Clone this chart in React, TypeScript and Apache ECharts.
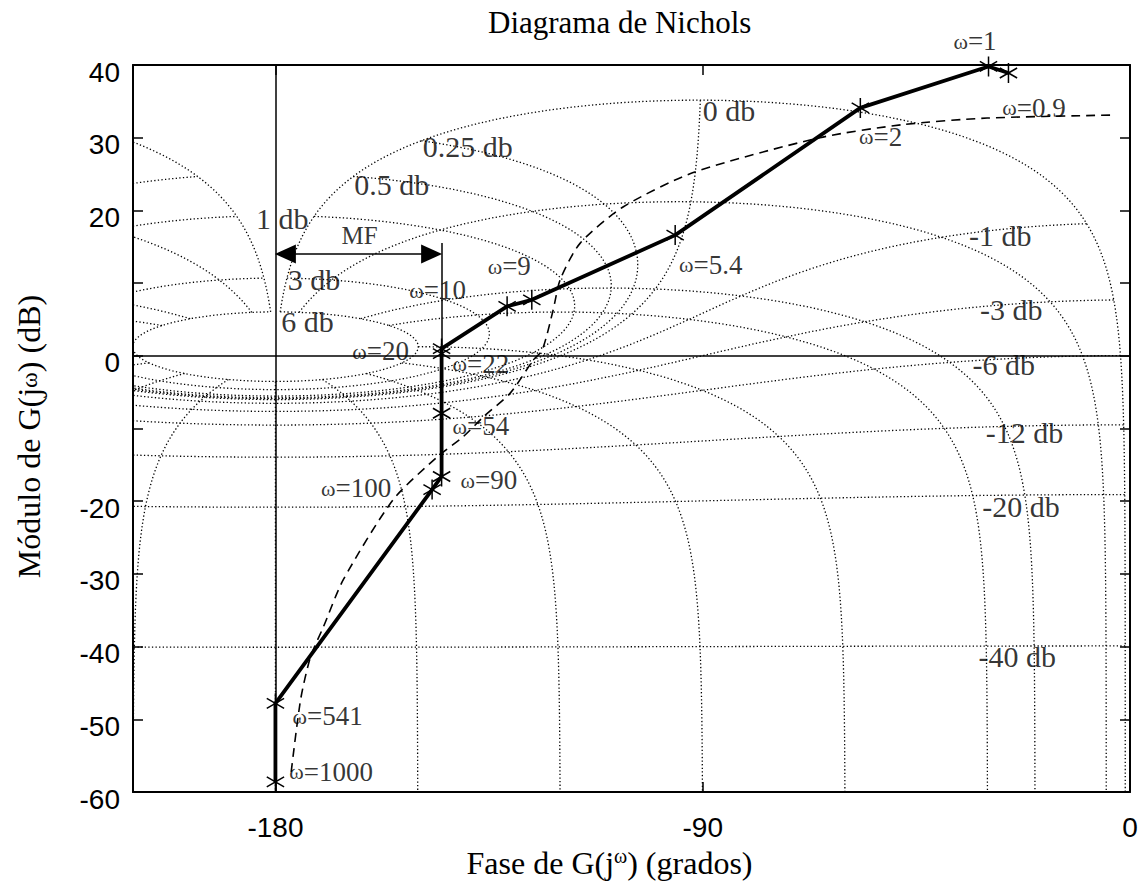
import { useEffect, useRef } from "react";
import * as echarts from "echarts";

const SERIF = '"Liberation Serif", "Times New Roman", Times, serif';
const SANS = '"Liberation Sans", Arial, Helvetica, sans-serif';

// ---- axis ticks ----
const xTickValues = [-180, -90, 0];
const hiddenYLabels = [10, -10];

// ---- open-loop response G(jw) (solid line with asterisks) ----
const omegaValues = ["0.9", "1", "2", "5.4", "9", "10", "20", "22", "54", "90", "100", "541", "1000"];
const gPhase = [-25.6, -29.8, -56.8, -95.8, -126.0, -131.2, -145, -145, -145, -145, -147.0, -180, -180];
const gMag = [38.9, 39.8, 34.1, 16.6, 7.7, 6.8, 1.0, 0.3, -7.9, -16.6, -18.4, -47.8, -58.6];

// ---- second response (dashed curve) ----
const dashedPhase = [-4.2, -30.1, -47.8, -65.3, -92.0, -106.7, -115.8, -120.0, -121.5, -123.8, -125.7, -130.5, -136.2, -140.4, -145.9, -155.2, -165.7, -169.9, -172.6, -174.7, -176.8];
const dashedMag = [33.1, 32.7, 31.8, 30.0, 25.2, 20.5, 15.5, 10.5, 6.3, 0.8, -0.6, -5.1, -8.4, -11.1, -13.9, -19.8, -30.8, -37.3, -41.4, -47.3, -57.9];

// ---- omega annotation anchors ----
const omegaLabelPhase = [-27.0, -37.3, -57.2, -95.1, -135.4, -151.9, -163.9, -142.8, -142.8, -141.1, -170.5, -176.5, -177.2];
const omegaLabelMag = [34.1, 43.3, 30.1, 12.5, 12.3, 9.0, 0.6, -1.1, -9.7, -17.1, -18.2, -49.6, -57.2];

// ---- Nichols grid (closed-loop magnitude and phase contours) ----
const M_LEVELS_DB = [6, 3, 1, 0.5, 0.25, 0, -1, -3, -6, -12, -20, -40];
const N_LEVELS_DEG = [-1, -5, -20, -30, -60, -90, -120, -150, -180, -210, -240, -270, -300, -330, -340, -355, -359];

const gridLabelTexts = ["0 db", "0.25 db", "0.5 db", "1 db", "3 db", "6 db", "-1 db", "-3 db", "-6 db", "-12 db", "-20 db", "-40 db"];
const gridLabelPhase = [-90.1, -149.1, -163.5, -184.2, -177.5, -178.9, -34.0, -31.7, -33.3, -30.5, -31.2, -32.0];
const gridLabelMag = [33.8, 28.8, 23.5, 18.9, 10.5, 4.7, 16.6, 6.3, -1.2, -10.6, -20.7, -41.4];

// ---- phase margin annotation ----
const pmPhase = -145;
const pmTopDb = 15.5;
const mfArrowDb = 14;
const mfArrowEnds = [-177.9, -147.1];
const mfLabelPos = [-162.3, 16.6];

function nicholsPoint(mDb: number, psiDeg: number): [number, number] {
  const m = Math.pow(10, mDb / 20);
  const p = (psiDeg * Math.PI) / 180;
  const tr = m * Math.cos(p);
  const ti = m * Math.sin(p);
  const dr = 1 - tr;
  const di = -ti;
  const den = dr * dr + di * di;
  const gr = (tr * dr + ti * di) / den;
  const gi = (ti * dr - tr * di) / den;
  const mag = 20 * Math.log10(Math.hypot(gr, gi));
  let ph = (Math.atan2(gi, gr) * 180) / Math.PI;
  ph = ((ph + 360) % 360) - 360;
  return [ph, mag];
}

function mContour(mDb: number): [number, number][] {
  const psis: number[] = [];
  for (let i = 0; i < 180; i++) psis.push(-1 - i * 0.05);
  for (let i = 0; i <= 340; i++) psis.push(-10 - i);
  for (let i = 1; i <= 180; i++) psis.push(-350 - i * 0.05);
  return psis.map((p) => nicholsPoint(mDb, p));
}

function nContour(psi: number): [number, number][] {
  const ms: number[] = [];
  for (let i = 0; i < 110; i++) ms.push(6 - i * 0.05);
  for (let i = 0; i < 200; i++) ms.push(0.5 - i * 0.005);
  for (let i = 0; i < 110; i++) ms.push(-0.5 - i * 0.05);
  for (let i = 0; i <= 188; i++) ms.push(-6 - i * 0.5);
  return ms.map((m) => nicholsPoint(m, psi));
}

const ASTERISK = "path://M10 0L10 20M1.34 5L18.66 15M1.34 15L18.66 5";

export default function App() {
  const ref = useRef<HTMLDivElement>(null);

  useEffect(() => {
    if (!ref.current) return;
    const chart = echarts.init(ref.current, undefined, { renderer: "svg" });

    const gridStyle = { color: "#000", width: 1.3, type: [1.3, 2.3] as any };
    const gridSeries: any[] = [];
    M_LEVELS_DB.forEach((m) =>
      gridSeries.push({
        type: "line",
        data: mContour(m),
        showSymbol: false,
        symbol: "none",
        silent: true,
        z: 1,
        lineStyle: gridStyle,
      })
    );
    N_LEVELS_DEG.forEach((n) =>
      gridSeries.push({
        type: "line",
        data: nContour(n),
        showSymbol: false,
        symbol: "none",
        silent: true,
        z: 1,
        lineStyle: gridStyle,
      })
    );

    const gData = gPhase.map((p, i) => [p, gMag[i]]);
    const dData = dashedPhase.map((p, i) => [p, dashedMag[i]]);

    const omegaLabelData = omegaValues.map((w, i) => ({
      name: w,
      value: [omegaLabelPhase[i], omegaLabelMag[i]],
    }));
    const gridLabelData = gridLabelTexts.map((t, i) => ({
      name: t,
      value: [gridLabelPhase[i], gridLabelMag[i]],
    }));

    const option: any = {
      animation: false,
      backgroundColor: "#fff",
      title: {
        text: "Diagrama de Nichols",
        left: 483,
        top: 2,
        textStyle: { fontFamily: SERIF, fontSize: 31, fontWeight: "normal", color: "#000" },
      },
      grid: { left: 133, top: 65, width: 997, height: 727, containLabel: false, outerBoundsMode: "none" },
      xAxis: [
        {
          type: "value",
          min: -210,
          max: 0,
          position: "bottom",
          axisLine: { show: true, onZero: false, lineStyle: { color: "#000", width: 2 } },
          axisTick: { show: true, inside: true, length: 10, customValues: xTickValues, lineStyle: { color: "#000", width: 1.5 } },
          axisLabel: { customValues: xTickValues, fontFamily: SANS, fontSize: 28, color: "#000", margin: 21 },
          splitLine: { show: false },
          name: "Fase de G(j{w|ω}) (grados)",
          nameLocation: "middle",
          nameGap: 53,
          nameTextStyle: {
            fontFamily: SERIF,
            fontSize: 32,
            color: "#000",
            padding: [0, 44, 0, 0],
            lineHeight: 34,
            rich: { w: { fontFamily: SERIF, fontSize: 20, color: "#000", verticalAlign: "top", lineHeight: 34 } },
          },
        },
        {
          type: "value",
          min: -210,
          max: 0,
          position: "top",
          axisLine: { show: true, onZero: false, lineStyle: { color: "#000", width: 2 } },
          axisTick: { show: true, inside: true, length: 10, customValues: xTickValues, lineStyle: { color: "#000", width: 1.5 } },
          axisLabel: { show: false },
          splitLine: { show: false },
        },
      ],
      yAxis: [
        {
          type: "value",
          min: -60,
          max: 40,
          interval: 10,
          position: "left",
          axisLine: { show: true, onZero: false, lineStyle: { color: "#000", width: 2 } },
          axisTick: { show: true, inside: true, length: 10, lineStyle: { color: "#000", width: 1.5 } },
          axisLabel: {
            formatter: (v: number) => (hiddenYLabels.includes(v) ? "" : String(v)),
            fontFamily: SANS,
            fontSize: 28,
            color: "#000",
            margin: 13,
            verticalAlign: "top",
            lineHeight: 14,
          },
          splitLine: { show: false },
          name: "Módulo de G(j{w|ω}) (dB)",
          nameLocation: "middle",
          nameGap: 88,
          nameTextStyle: {
            fontFamily: SERIF,
            fontSize: 32,
            color: "#000",
            padding: [0, 16, 0, 0],
            rich: { w: { fontFamily: SERIF, fontSize: 24, color: "#000" } },
          },
        },
        {
          type: "value",
          min: -60,
          max: 40,
          interval: 10,
          position: "right",
          axisLine: { show: true, onZero: false, lineStyle: { color: "#000", width: 2 } },
          axisTick: { show: true, inside: true, length: 10, lineStyle: { color: "#000", width: 1.5 } },
          axisLabel: { show: false },
          splitLine: { show: false },
        },
      ],
      series: [
        ...gridSeries,
        {
          type: "line",
          data: dData,
          showSymbol: false,
          symbol: "none",
          smooth: 0.25,
          silent: true,
          z: 3,
          lineStyle: { color: "#000", width: 1.6, type: [9, 6] },
        },
        {
          type: "line",
          data: gData,
          symbol: ASTERISK,
          symbolSize: 20,
          symbolKeepAspect: true,
          showSymbol: true,
          silent: true,
          z: 4,
          lineStyle: { color: "#000", width: 3.8 },
          itemStyle: { color: "#000", borderColor: "#000", borderWidth: 1.5 },
          markLine: {
            silent: true,
            symbol: "none",
            label: { show: false },
            lineStyle: { color: "#000", width: 1.5, type: "solid" },
            data: [
              { xAxis: -180 },
              { yAxis: 0 },
              [{ coord: [pmPhase, 0] }, { coord: [pmPhase, pmTopDb] }],
              [
                { coord: [mfArrowEnds[0], mfArrowDb], symbol: "triangle", symbolSize: [19, 21] },
                { coord: [mfArrowEnds[1], mfArrowDb], symbol: "triangle", symbolSize: [19, 21] },
              ],
            ],
          },
        },
        {
          type: "scatter",
          data: omegaLabelData,
          symbolSize: 1,
          itemStyle: { color: "transparent" },
          silent: true,
          clip: false,
          z: 5,
          label: {
            show: true,
            position: "right",
            distance: 0,
            formatter: (p: any) => `{w|ω}{n|=${p.name}}`,
            rich: {
              w: { fontFamily: SERIF, fontSize: 22, color: "#000" },
              n: { fontFamily: SERIF, fontSize: 27, color: "#000" },
            },
          },
        },
        {
          type: "scatter",
          data: gridLabelData,
          symbolSize: 1,
          itemStyle: { color: "transparent" },
          silent: true,
          clip: false,
          z: 5,
          label: {
            show: true,
            position: "right",
            distance: 0,
            formatter: (p: any) => p.name,
            fontFamily: SERIF,
            fontSize: 30,
            color: "#000",
          },
        },
        {
          type: "scatter",
          data: [{ name: "MF", value: mfLabelPos }],
          symbolSize: 1,
          itemStyle: { color: "transparent" },
          silent: true,
          clip: false,
          z: 5,
          label: {
            show: true,
            position: "inside",
            formatter: "MF",
            fontFamily: SERIF,
            fontSize: 25,
            color: "#000",
          },
        },
      ],
    };

    chart.setOption(option);
    return () => chart.dispose();
  }, []);

  return (
    <div
      ref={ref}
      style={{ position: "fixed", left: 0, top: 0, width: 1143, height: 882, background: "#fff" }}
    />
  );
}
